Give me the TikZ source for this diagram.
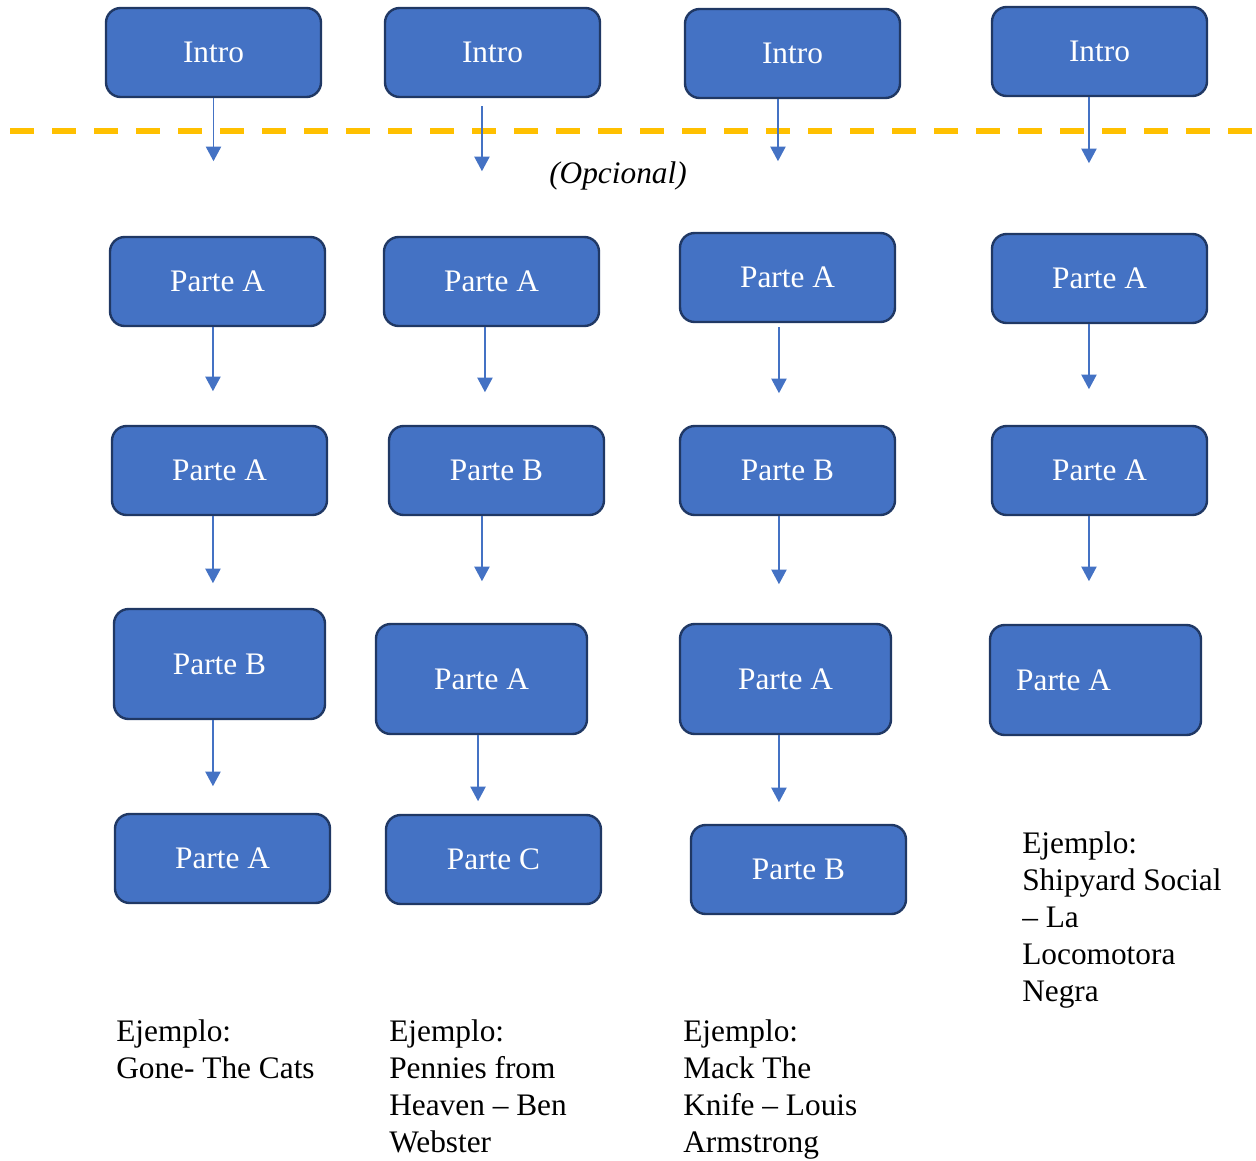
\documentclass[tikz,border=0pt]{standalone}
\usepackage{fontspec}
\setmainfont{Liberation Serif}
\usetikzlibrary{arrows.meta}
\definecolor{boxblue}{HTML}{4472C4}
\definecolor{boxline}{HTML}{203864}
\definecolor{lineyellow}{HTML}{FFC000}
\newcommand{\bigtext}{\fontsize{23.5}{27.75}\selectfont}

\begin{document}
\begin{tikzpicture}[x=0.75pt,y=-0.75pt,
    box/.style={draw=boxline,fill=boxblue,line width=1.8pt,rounded corners=11pt,
      text=white,minimum width=161.25pt,minimum height=66.75pt,font=\bigtext},
    tallbox/.style={box,minimum width=158.25pt,minimum height=82.5pt},
    arr/.style={draw=boxblue,line width=1.1pt,-{Triangle[width=11.5pt,length=11pt]}},
    example/.style={anchor=north west,inner sep=0pt,align=left,font=\bigtext}]
    \useasboundingbox (0,0) rectangle (1256,1160);
    \draw [lineyellow,line width=4.1pt,dash pattern=on 18pt off 13.5pt] (10,131) -- (1256,131);
    \node at (618,176) {\bigtext\itshape (Opcional)};
    % first column
    \node[box] (c1i) at (213.5,52.5) {Intro};
    \node[box] (c1a1) at (217.5,281.5) {Parte A};
    \node[box] (c1a2) at (219.5,470.5) {Parte A};
    \node[tallbox] (c1b) at (219.5,664) {Parte B};
    \node[box] (c1a3) at (222.5,858.5) {Parte A};
    \draw[arr] (c1i.south) -- ++(0,63);
    \draw[arr] ([xshift=-3.4pt]c1a1.south) -- ++(0,64);
    \draw[arr] ([xshift=-4.9pt]c1a2.south) -- ++(0,67);
    \draw[arr] ([xshift=-4.9pt]c1b.south) -- ++(0,66);
    \node[example] (ex1) at (116,1019) {Ejemplo:\\Gone- The Cats};
    % second column
    \node[box] (c2i) at (492.5,52.5) {Intro};
    \node[box] (c2a1) at (491.5,281.5) {Parte A};
    \node[box] (c2b) at (496.5,470.5) {Parte B};
    \node[tallbox] (c2a2) at (481.5,679) {Parte A};
    \node[box] (c2c) at (493.5,859.5) {Parte C};
    \draw[arr] ([xshift=-7.9pt,yshift=-6pt]c2i.south) -- ++(0,65);
    \draw[arr] ([xshift=-4.9pt]c2a1.south) -- ++(0,65);
    \draw[arr] ([xshift=-10.9pt]c2b.south) -- ++(0,65);
    \draw[arr] ([xshift=-2.6pt]c2a2.south) -- ++(0,66);
    \node[example] (ex2) at (389,1019) {Ejemplo:\\Pennies from\\Heaven -- Ben\\Webster};
    % third column
    \node[box] (c3i) at (792.5,53.5) {Intro};
    \node[box] (c3a1) at (787.5,277.5) {Parte A};
    \node[box] (c3b1) at (787.5,470.5) {Parte B};
    \node[tallbox] (c3a2) at (785.5,679) {Parte A};
    \node[box] (c3b2) at (798.5,869.5) {Parte B};
    \draw[arr] ([xshift=-10.9pt]c3i.south) -- ++(0,62);
    \draw[arr] ([xshift=-6.4pt,yshift=-3pt]c3a1.south) -- ++(0,66);
    \draw[arr] ([xshift=-6.4pt]c3b1.south) -- ++(0,68);
    \draw[arr] ([xshift=-4.9pt]c3a2.south) -- ++(0,67);
    \node[example] (ex3) at (683,1019) {Ejemplo:\\Mack The\\Knife -- Louis\\Armstrong};
    % fourth column
    \node[box] (c4i) at (1099.5,51.5) {Intro};
    \node[box] (c4a1) at (1099.5,278.5) {Parte A};
    \node[box] (c4a2) at (1099.5,470.5) {Parte A};
    \node[tallbox] (c4a3) at (1095.5,680) {\makebox[119pt][l]{Parte A}};
    \draw[arr] ([xshift=-7.9pt]c4i.south) -- ++(0,66);
    \draw[arr] ([xshift=-7.9pt]c4a1.south) -- ++(0,65);
    \draw[arr] ([xshift=-7.9pt]c4a2.south) -- ++(0,65);
    \node[example] (ex4) at (1022,831) {Ejemplo:\\Shipyard Social\\-- La\\Locomotora\\Negra};
  \end{tikzpicture}
\end{document}
